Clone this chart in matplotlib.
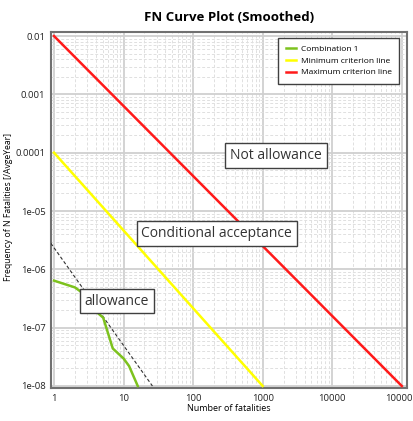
import matplotlib
matplotlib.use('Agg')
import matplotlib.pyplot as plt
from matplotlib.ticker import LogLocator, FixedLocator, FixedFormatter

plt.rcParams['font.family'] = ['Open Sans', 'DejaVu Sans']

# data
combo_x = [1, 2, 2.6, 4.1, 5.1, 7, 10, 12, 16]
combo_y = [6.4e-7, 4.9e-7, 3.9e-7, 1.86e-7, 1.48e-7, 4.4e-8, 2.96e-8, 2.2e-8, 1.0e-8]
min_x = [1, 1000]
min_y = [1e-4, 1e-8]
max_x = [1, 100000]
max_y = [1e-2, 1e-8]
dash_x = [0.9, 26]
dash_y = [2.8e-6, 1e-8]

xticks = [1, 10, 100, 1000, 10000, 100000]
xlabels = ['1', '10', '100', '1000', '10000', '100000']
yticks = [1e-8, 1e-7, 1e-6, 1e-5, 1e-4, 1e-3, 1e-2]
ylabels = ['1e-08', '1e-07', '1e-06', '1e-05', '0.0001', '0.001', '0.01']

fig = plt.figure(figsize=(4.13, 4.21), dpi=100)
ax = fig.add_axes([0.1235, 0.0784, 0.8615, 0.8456])

ax.plot(combo_x, combo_y, color='#7dc21e', lw=1.8, label='Combination 1', zorder=4)
ax.plot(min_x, min_y, color='#ffff00', lw=1.8, label='Minimum criterion line', zorder=4)
ax.plot(max_x, max_y, color='#ff1a1a', lw=1.8, label='Maximum criterion line', zorder=4)
ax.plot(dash_x, dash_y, color='#303030', lw=0.8, ls=(0, (3, 2)), zorder=3)

ax.set_xscale('log')
ax.set_yscale('log')
ax.set_xlim(0.906, 1.18e5)
ax.set_ylim(9.24e-9, 0.01172)

ax.xaxis.set_major_locator(FixedLocator(xticks))
ax.xaxis.set_major_formatter(FixedFormatter(xlabels))
ax.yaxis.set_major_locator(FixedLocator(yticks))
ax.yaxis.set_major_formatter(FixedFormatter(ylabels))
ax.xaxis.set_minor_locator(LogLocator(base=10, subs=range(2, 10), numticks=20))
ax.yaxis.set_minor_locator(LogLocator(base=10, subs=range(2, 10), numticks=20))
ax.tick_params(which='both', length=0, labelsize=6.8, colors='#222222', pad=4)

ax.grid(True, which='major', color='#d0d0d0', lw=1.3, zorder=0)
ax.grid(True, which='minor', color='#e0e0e0', lw=0.7, ls=(0, (3, 2)), zorder=0)
ax.set_axisbelow(True)

for sp in ax.spines.values():
    sp.set_color('#707070')
    sp.set_linewidth(1.5)

ax.set_title('FN Curve Plot (Smoothed)', fontsize=9.5, fontweight='bold', pad=8)
ax.set_xlabel('Number of fatalities', fontsize=6.5, labelpad=1)
ax.set_ylabel('Frequency of N Fatalities [/AvgeYear]', fontsize=6.2)
ax.yaxis.set_label_coords(-0.108, 0.508)

leg = ax.legend(loc='upper right', fontsize=6, fancybox=False, framealpha=1,
                edgecolor='#404040', handlelength=1.3, handletextpad=0.5,
                borderpad=0.9, labelspacing=0.45, bbox_to_anchor=(0.99, 0.995))
leg.get_frame().set_linewidth(1)

box = dict(boxstyle='square,pad=0.35', facecolor='white', edgecolor='#404040', lw=1)
ax.text(0.632, 0.654, 'Not allowance', transform=ax.transAxes, fontsize=10,
        ha='center', va='center', color='#333333', bbox=box, zorder=6)
ax.text(0.466, 0.433, 'Conditional acceptance', transform=ax.transAxes, fontsize=10,
        ha='center', va='center', color='#333333', bbox=box, zorder=6)
ax.text(0.185, 0.244, 'allowance', transform=ax.transAxes, fontsize=10,
        ha='center', va='center', color='#333333', bbox=box, zorder=6)

plt.savefig('out.png', dpi=100)
